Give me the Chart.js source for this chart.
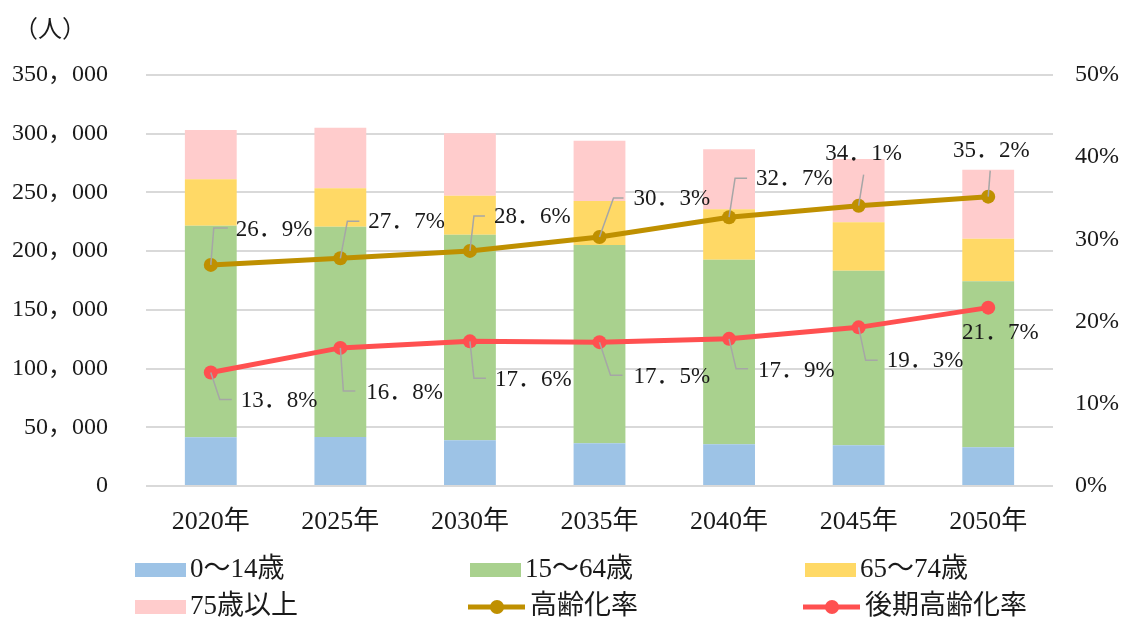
<!DOCTYPE html>
<html>
<head>
<meta charset="utf-8">
<script src="https://cdn.jsdelivr.net/npm/chart.js@4.4.0/dist/chart.umd.min.js"></script>
<style>
  html, body { margin: 0; padding: 0; background: #fff; }
</style>
</head>
<body>
<canvas id="chart" width="1121" height="621"></canvas>
<script>
// -------- Datos --------
const years = ["2020年", "2025年", "2030年", "2035年", "2040年", "2045年", "2050年"];
const age0to14 = [41500, 41700, 38900, 36300, 35500, 34700, 33000];
const age15to64 = [180200, 179100, 175100, 168900, 157200, 148700, 141300];
const age65to74 = [39500, 32700, 33200, 37500, 42900, 41200, 36300];
const age75plus = [42000, 51600, 53100, 51400, 51100, 53900, 58800];
const agingRate = [26.9, 27.7, 28.6, 30.3, 32.7, 34.1, 35.2];
const lateAgingRate = [13.8, 16.8, 17.6, 17.5, 17.9, 19.3, 21.7];

const leftMax = 350000, leftStep = 50000;
const rightMax = 50, rightStep = 10;

const SERIF = "'Liberation Serif', 'Noto Sans CJK JP', serif";
const INK = "#1a1a1a";

// label offsets from each point: [textDx, textDy, align, elbowDx, elbowDy, endDx]
const agingLabelPos = [
  [25, -35, "left", 3, -37, 17],
  [28, -36, "left", 7, -37, 19],
  [24, -34, "left", 4, -35, 15],
  [34, -38, "left", 14, -39, 24],
  [27, -38, "left", 6, -39, 18],
  [5, -52, "center", 5, -31, null],
  [3, -46, "center", 2, -26, null]
];
const lateLabelPos = [
  [30, 28, "left", 9, 27, 21],
  [26, 45, "left", 3, 43, 15],
  [25, 39, "left", 4, 37, 16],
  [34, 35, "left", 11, 33, 23],
  [29, 32, "left", 7, 30, 19],
  [28, 34, "left", 7, 33, 19],
  [12, 25, "center", null, null, null]
];

function fmtPct(v) {
  return v.toFixed(1).replace(".", "．") + "%";
}

// -------- Etiquetas con líneas guía --------
const rateLabels = {
  id: "rateLabels",
  afterDatasetsDraw(chart) {
    const ctx = chart.ctx;
    const sets = [[4, agingLabelPos], [5, lateLabelPos]];
    ctx.save();
    sets.forEach(([di, pos]) => {
      const meta = chart.getDatasetMeta(di);
      const values = chart.data.datasets[di].data;
      meta.data.forEach((pt, i) => {
        const p = pos[i];
        if (p[3] !== null) {
          ctx.strokeStyle = "#a6a6a6";
          ctx.lineWidth = 1.5;
          ctx.beginPath();
          ctx.moveTo(pt.x, pt.y);
          ctx.lineTo(pt.x + p[3], pt.y + p[4]);
          if (p[5] !== null) ctx.lineTo(pt.x + p[5], pt.y + p[4]);
          ctx.stroke();
        }
        ctx.fillStyle = INK;
        ctx.font = "23px " + SERIF;
        ctx.textAlign = p[2];
        ctx.textBaseline = "middle";
        ctx.fillText(fmtPct(values[i]), pt.x + p[0], pt.y + p[1]);
      });
    });
    ctx.restore();
  }
};

// -------- Leyenda + unidad --------
const legendCols = [135, 470, 805];
const legendRows = [570, 607];

const customLegend = {
  id: "customLegend",
  afterDraw(chart) {
    const ctx = chart.ctx;
    ctx.save();
    ctx.fillStyle = INK;
    ctx.font = "24px " + SERIF;
    ctx.textAlign = "left";
    ctx.textBaseline = "middle";
    ctx.fillText("（人）", 14, 31);

    ctx.font = "27px " + SERIF;
    chart.data.datasets.forEach((ds, i) => {
      const x = legendCols[i % 3];
      const y = legendRows[Math.floor(i / 3)];
      if (ds.type === "line") {
        ctx.strokeStyle = ds.borderColor;
        ctx.lineWidth = 5;
        ctx.beginPath();
        ctx.moveTo(x - 2, y);
        ctx.lineTo(x + 55, y);
        ctx.stroke();
        ctx.fillStyle = ds.borderColor;
        ctx.beginPath();
        ctx.arc(x + 27, y, 7, 0, Math.PI * 2);
        ctx.fill();
        ctx.fillStyle = INK;
        ctx.fillText(ds.label, x + 60, y);
      } else {
        ctx.fillStyle = ds.backgroundColor;
        ctx.fillRect(x, y - 7, 51, 14);
        ctx.fillStyle = INK;
        ctx.fillText(ds.label, x + 55, y);
      }
    });
    ctx.restore();
  }
};

function barSet(label, data, color) {
  return {
    type: "bar", label, data, backgroundColor: color, stack: "pop",
    yAxisID: "y", order: 2, categoryPercentage: 0.8, barPercentage: 0.5
  };
}

function lineSet(label, data, color) {
  return {
    type: "line", label, data, borderColor: color, backgroundColor: color,
    yAxisID: "y1", order: 0, borderWidth: 5, pointRadius: 7,
    pointHoverRadius: 7, pointBorderWidth: 0, tension: 0
  };
}

new Chart(document.getElementById("chart").getContext("2d"), {
  data: {
    labels: years,
    datasets: [
      barSet("0～14歳", age0to14, "#9dc3e6"),
      barSet("15～64歳", age15to64, "#a9d18e"),
      barSet("65～74歳", age65to74, "#ffd966"),
      barSet("75歳以上", age75plus, "#ffcccc"),
      lineSet("高齢化率", agingRate, "#bf9000"),
      lineSet("後期高齢化率", lateAgingRate, "#ff5050")
    ]
  },
  options: {
    responsive: false,
    animation: false,
    devicePixelRatio: 1,
    layout: { padding: { top: 75, bottom: 85, left: 0, right: 0 } },
    plugins: { legend: { display: false }, tooltip: { enabled: false } },
    scales: {
      x: {
        stacked: true,
        grid: { display: false, drawTicks: false },
        border: { display: false },
        ticks: { color: INK, font: { family: SERIF, size: 26 }, padding: 21 },
        afterFit(s) { s.height = 50; }
      },
      y: {
        stacked: true,
        min: 0, max: leftMax,
        grid: { color: "#d9d9d9", lineWidth: 2, drawTicks: false },
        border: { display: false },
        ticks: {
          stepSize: leftStep, padding: 38, color: INK,
          font: { family: SERIF, size: 24 },
          callback: v => v.toLocaleString("en-US").replace(/,/g, "，")
        },
        afterFit(s) { s.width = 146; }
      },
      y1: {
        position: "right",
        min: 0, max: rightMax,
        grid: { display: false, drawTicks: false },
        border: { display: false },
        ticks: {
          stepSize: rightStep, padding: 22, color: INK,
          font: { family: SERIF, size: 24 },
          callback: v => v + "%"
        },
        afterFit(s) { s.width = 68; }
      }
    }
  },
  plugins: [rateLabels, customLegend]
});
</script>
</body>
</html>
